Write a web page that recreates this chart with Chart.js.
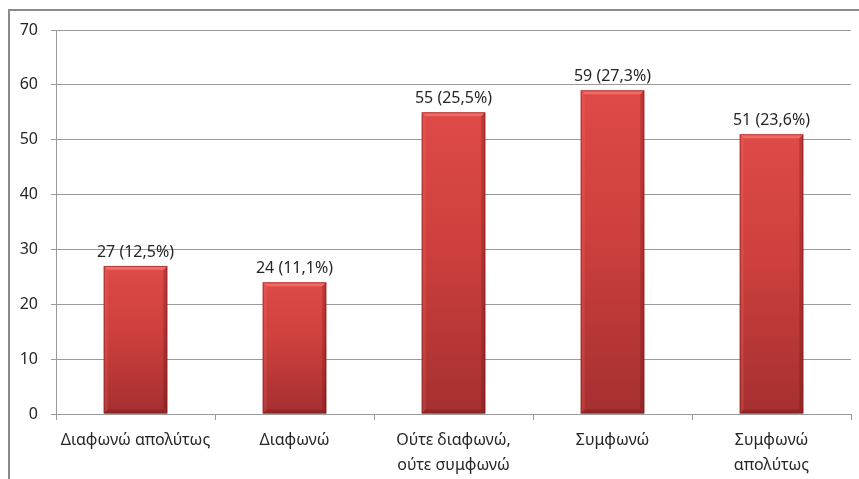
<!DOCTYPE html>
<html>
<head>
<meta charset="utf-8">
<script src="https://cdn.jsdelivr.net/npm/chart.js@4/dist/chart.umd.min.js"></script>
<style>
  html, body { margin: 0; padding: 0; background: #fff; }
  #wrap { position: relative; width: 859px; height: 479px; overflow: hidden; }
  #frame { position: absolute; left: 8px; top: 9px; width: 900px; height: 500px;
           border-left: 2px solid #8a8a8a; border-top: 2px solid #8a8a8a; box-sizing: border-box; }
  canvas { position: absolute; left: 0; top: 0; }
</style>
</head>
<body>
<div id="wrap">
  <div id="frame"></div>
  <canvas id="chart" width="859" height="479"></canvas>
</div>
<script>
const categories = ['Διαφωνώ απολύτως', 'Διαφωνώ', ['Ούτε διαφωνώ,', 'ούτε συμφωνώ'], 'Συμφωνώ', ['Συμφωνώ', 'απολύτως']];
const counts = [27, 24, 55, 59, 51];
const percents = ['12,5', '11,1', '25,5', '27,3', '23,6'];
const yTicks = [0, 10, 20, 30, 40, 50, 60, 70];

const FONT = '"Noto Sans", "DejaVu Sans", sans-serif';
const GRID = '#9a9a9a';

// vertical red gradient per bar, from the bar's top to the zero line
function barFill(ctx){
  const ys = ctx.chart.scales && ctx.chart.scales.y;
  if(!ys || ctx.parsed === undefined) return '#c63c3a';
  const top = ys.getPixelForValue(ctx.parsed.y);
  const base = ys.getPixelForValue(0);
  if(!Number.isFinite(top) || !Number.isFinite(base) || top === base) return '#c63c3a';
  const g = ctx.chart.ctx.createLinearGradient(0, top, 0, base);
  g.addColorStop(0, '#de4a47');
  g.addColorStop(0.45, '#cd403d');
  g.addColorStop(1, '#a52f30');
  return g;
}

// bevel edges and value labels on top of the bars
const bevelPlugin = {
  id: 'bevel',
  afterDatasetsDraw(chart){
    const ctx = chart.ctx;
    const meta = chart.getDatasetMeta(0);
    meta.data.forEach((bar, i) => {
      const w = bar.width;
      const l = bar.x - w/2, r = bar.x + w/2;
      const t = bar.y, b = bar.base;
      const e = 4;
      ctx.save();
      // top highlight
      ctx.fillStyle = 'rgba(255,130,120,0.6)';
      ctx.beginPath();
      ctx.moveTo(l, t); ctx.lineTo(r, t); ctx.lineTo(r-e, t+e); ctx.lineTo(l+e, t+e); ctx.closePath();
      ctx.fill();
      // left side
      ctx.fillStyle = 'rgba(255,120,110,0.2)';
      ctx.beginPath();
      ctx.moveTo(l, t); ctx.lineTo(l+e, t+e); ctx.lineTo(l+e, b-e); ctx.lineTo(l, b); ctx.closePath();
      ctx.fill();
      // right side
      ctx.fillStyle = 'rgba(90,10,10,0.25)';
      ctx.beginPath();
      ctx.moveTo(r, t); ctx.lineTo(r-e, t+e); ctx.lineTo(r-e, b-e); ctx.lineTo(r, b); ctx.closePath();
      ctx.fill();
      // bottom
      ctx.fillStyle = 'rgba(90,10,10,0.25)';
      ctx.beginPath();
      ctx.moveTo(l, b); ctx.lineTo(l+e, b-e); ctx.lineTo(r-e, b-e); ctx.lineTo(r, b); ctx.closePath();
      ctx.fill();
      ctx.strokeStyle = 'rgba(120,20,20,0.55)';
      ctx.lineWidth = 1;
      ctx.strokeRect(l+0.5, t+0.5, w-1, b-t-1);
      // value label
      ctx.fillStyle = '#262626';
      ctx.font = '16px ' + FONT;
      ctx.textAlign = 'center';
      ctx.textBaseline = 'alphabetic';
      ctx.fillText(counts[i] + ' (' + percents[i] + '%)', bar.x, t - 9);
      ctx.restore();
    });
  }
};

new Chart(document.getElementById('chart'), {
  type: 'bar',
  data: {
    labels: categories,
    datasets: [{
      data: counts,
      backgroundColor: barFill,
      borderWidth: 0,
      categoryPercentage: 0.8,
      barPercentage: 0.5
    }]
  },
  options: {
    responsive: false,
    animation: false,
    events: [],
    layout: { padding: { left: 0, top: 30, right: 8, bottom: 0 } },
    plugins: { legend: { display: false }, tooltip: { enabled: false } },
    scales: {
      x: {
        afterFit(scale){ scale.height = 65; },
        grid: { offset: true, drawOnChartArea: false, color: GRID, tickLength: 6 },
        border: { color: GRID },
        ticks: { color: '#262626', font: { family: FONT, size: 16, lineHeight: 1.55 }, padding: 8, maxRotation: 0, autoSkip: false }
      },
      y: {
        min: 0, max: 70,
        afterFit(scale){ scale.width = 56; },
        afterBuildTicks(scale){ scale.ticks = yTicks.map(v => ({ value: v })); },
        grid: { color: GRID, tickLength: 5 },
        border: { color: GRID },
        ticks: { color: '#262626', font: { family: FONT, size: 16 }, padding: 13 }
      }
    }
  },
  plugins: [bevelPlugin]
});
</script>
</body>
</html>
